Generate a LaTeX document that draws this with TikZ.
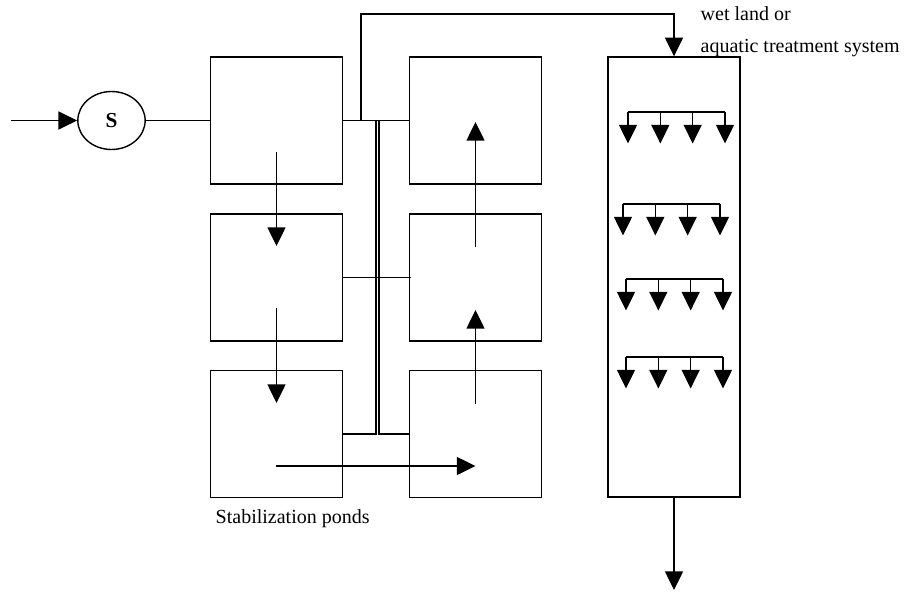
\documentclass[tikz,border=0pt]{standalone}
\usepackage{fontspec}
\setmainfont{Liberation Serif}
\usetikzlibrary{arrows.meta,shapes.geometric}
\begin{document}
\begin{tikzpicture}[x=0.75pt,y=-0.75pt, line width=1.05pt,
  pond/.style={draw, minimum width=99.4pt, minimum height=95.25pt, inner sep=0pt},
  flow/.style={-{Triangle[length=14pt,width=13.5pt]}},
  lbl/.style={font=\fontsize{15}{18}\selectfont, inner sep=0pt, anchor=base west}]
\useasboundingbox (0,0) rectangle (906,592);
% ponds
\node[pond] (b1) at (276.5,120.5) {};
\node[pond] (b2) at (276.5,277.5) {};
\node[pond] (b3) at (276.5,434) {};
\node[pond] (b4) at (475.5,120.5) {};
\node[pond] (b5) at (475.5,277.5) {};
\node[pond] (b6) at (475.5,434) {};
% wetland
\node[draw, minimum width=99pt, minimum height=330pt, inner sep=0pt] (w) at (674,277) {};
% screen
\node[draw, ellipse, minimum width=50.5pt, minimum height=43.5pt, inner sep=0pt,
      font=\bfseries\fontsize{16}{18}\selectfont] (s) at (111.5,120.5) {S};
\coordinate (in) at (11,120.5);
\draw[flow] (in) -- (s.west);
\draw (s.east) -- (b1.west);
% pipes
\draw (b1.east) -- (b4.west);
\coordinate (tp) at (361,120.5);
\draw[flow] (tp) -- ++(0,-106.5) -| (w.north);
\coordinate (pa) at (376,120.5);
\coordinate (pb) at (379,120.5);
\draw (pa) -- (pa |- b3.east) -- (b3.east);
\draw (pb) -- (pb |- b6.west) -- (b6.west);
\draw (b2.east) -- ([xshift=1.5pt]b5.west);
% flows through ponds
\coordinate (d1s) at (276.5,152); \coordinate (d1e) at (276.5,246);
\coordinate (d2s) at (276.5,308); \coordinate (d2e) at (276.5,403);
\coordinate (hs) at (276,466);    \coordinate (he) at (475.5,466);
\coordinate (u1s) at (475.5,404); \coordinate (u1e) at (475.5,310);
\coordinate (u2s) at (475.5,247); \coordinate (u2e) at (475.5,122);
\draw[flow] (d1s) -- (d1e);
\draw[flow] (d2s) -- (d2e);
\draw[flow] (hs) -- (he);
\draw[flow] (u1s) -- (u1e);
\draw[flow] (u2s) -- (u2e);
% distributors
\foreach \yy/\xx in {112/628, 204/623, 279/626, 357/626} {
  \draw (\xx,\yy) -- (\xx+97,\yy);
  \foreach \k in {0,1,2,3}
    \draw[flow] (\xx+32.33*\k,\yy) -- (\xx+32.33*\k,\yy+31.5);
}
% outlet
\coordinate (out) at (674,590);
\draw[flow] (w.south) -- (out);
% labels
\node[lbl] (t1) at (700,21) {wet land or};
\node[lbl] (t2) at (700,52.5) {aquatic treatment system};
\node[lbl] (t3) at (215,523) {Stabilization ponds};
\end{tikzpicture}
\end{document}
